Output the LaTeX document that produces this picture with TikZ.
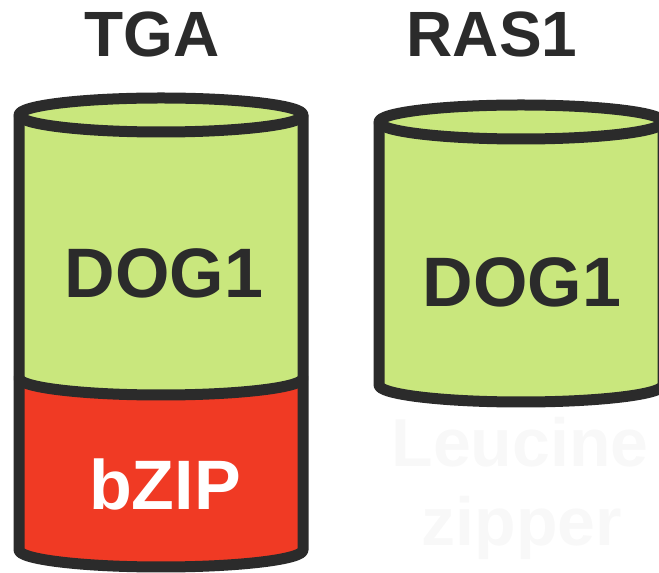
\documentclass[tikz,border=0pt]{standalone}
\usepackage{fontspec}
\setmainfont{Liberation Sans}
\usepackage{tikz}
\usetikzlibrary{positioning}
\definecolor{LeafGreen}{RGB}{201, 231, 125}
\definecolor{ZipRed}{RGB}{240, 58, 36}
\definecolor{InkBlack}{RGB}{43, 43, 43}
\definecolor{GhostWhite}{RGB}{248, 248, 248}

\tikzset{
    rim/.style={draw=InkBlack, line width=11pt, line join=round, line cap=round},
    headtext/.style={inner sep=0pt, anchor=base, font=\bfseries\fontsize{64}{64}\selectfont, text=InkBlack},
    domtext/.style={inner sep=0pt, anchor=base, font=\bfseries\fontsize{70}{70}\selectfont}
}

\begin{document}
\begin{tikzpicture}[x=1pt, y=1pt]
    \useasboundingbox (0,0) rectangle (659,573);

    % Cilindro TGA
    \begin{scope}[xshift=161pt]
        \fill[LeafGreen] (-142,458) -- (-142,195) arc[start angle=180, end angle=360, x radius=142pt, y radius=17pt] -- (142,458) -- cycle;
        \fill[ZipRed] (-142,195) arc[start angle=180, end angle=360, x radius=142pt, y radius=17pt] -- (142,23) arc[start angle=0, end angle=-180, x radius=142pt, y radius=17pt] -- cycle;
        \draw[rim, fill=LeafGreen] (0,458) ellipse[x radius=142pt, y radius=17pt];
        \draw[rim] (-142,195) arc[start angle=180, end angle=360, x radius=142pt, y radius=17pt];
        \draw[rim] (-142,458) -- (-142,23) arc[start angle=180, end angle=360, x radius=142pt, y radius=17pt] -- (142,458);
        \node[headtext] (tga) at (-9,516) {TGA};
        \node[domtext, text=InkBlack] (dogA) at (3,275) {DOG1};
        \node[domtext, text=white] (bzip) at (4,63) {bZIP};
    \end{scope}

    % Cilindro RAS1
    \begin{scope}[xshift=521pt]
        \fill[LeafGreen] (-142,451) -- (-142,188) arc[start angle=180, end angle=360, x radius=142pt, y radius=17pt] -- (142,451) -- cycle;
        \draw[rim, fill=LeafGreen] (0,451) ellipse[x radius=142pt, y radius=17pt];
        \draw[rim] (-142,451) -- (-142,188) arc[start angle=180, end angle=360, x radius=142pt, y radius=17pt] -- (142,451);
        \node[headtext] (ras) at (-29,516) {RAS1};
        \node[domtext, text=InkBlack] (dogB) at (1,266) {DOG1};
        \node[domtext, text=GhostWhite, font=\bfseries\fontsize{68}{68}\selectfont] (leucine) at (-1,106) {Leucine};
        \node[domtext, text=GhostWhite, font=\bfseries\fontsize{68}{68}\selectfont] (zipper) at (1,27) {zipper};
    \end{scope}
\end{tikzpicture}
\end{document}
